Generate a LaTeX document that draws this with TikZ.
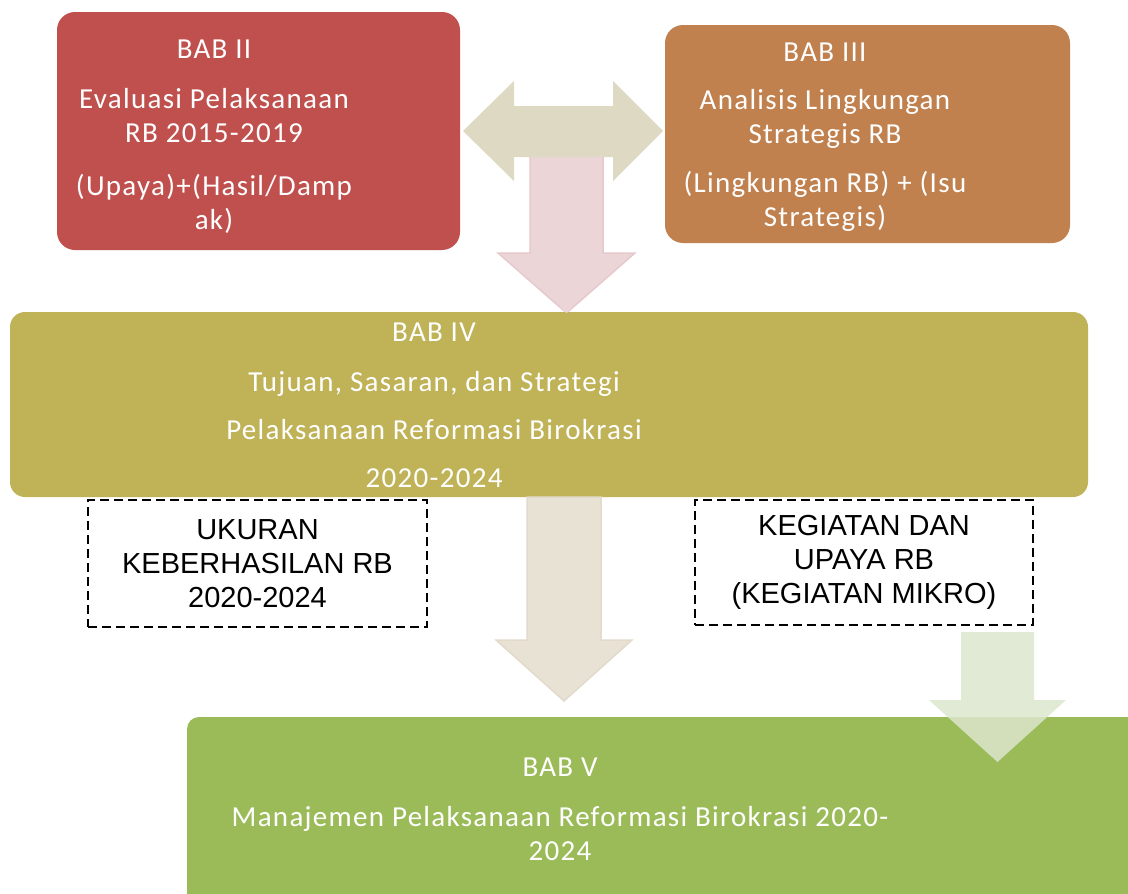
\documentclass[tikz,border=0pt]{standalone}
\usepackage{fontspec}
\usepackage{xcolor}
\setmainfont{Carlito}
\newfontfamily\babfont[LetterSpace=4.5]{Carlito}
\newfontfamily\arialfont{Liberation Sans}

\definecolor{babred}{HTML}{C0504D}
\definecolor{baborange}{HTML}{C0814F}
\definecolor{babolive}{HTML}{BFB257}
\definecolor{babgreen}{HTML}{9BBB59}
\definecolor{arrgrey}{HTML}{DDD9C3}
\definecolor{arrpink}{HTML}{EBD5D7}
\definecolor{arrpinkline}{HTML}{E6C9CC}
\definecolor{arrbeige}{HTML}{E8E2D4}
\definecolor{arrbeigeline}{HTML}{E2DACA}
\definecolor{arrgreen}{HTML}{DCE6CC}

\begin{document}
\begin{tikzpicture}[x=1pt, y=-1pt,
            babbox/.style={rectangle, rounded corners=18pt, inner sep=0pt},
            babtext/.style={anchor=north, inner sep=0pt, align=center, text=white, font=\babfont\fontsize{29}{34}\selectfont},
            dashbox/.style={rectangle, draw=black, line width=1.7pt, dash pattern=on 9pt off 5pt, align=center, inner sep=0pt, font=\arialfont\fontsize{29}{34}\selectfont},
            blockarrow/.style={line width=1.5pt, line join=miter}
        ]
\useasboundingbox (0,0) rectangle (1128,894);
\clip (0,0) rectangle (1128,894);

% Bab II and Bab III
            \node[babbox, fill=babred, minimum width=403pt, minimum height=238pt] (bab2) at (258.5,131) {};
            \node[babbox, fill=baborange, minimum width=405pt, minimum height=218pt] (bab3) at (867.5,134) {};
            \node[babtext] (bab2text) at (214,40) {BAB II\\[16pt]Evaluasi Pelaksanaan\\RB 2015-2019\\[19pt](Upaya)+(Hasil/Damp\\ak)};
            \node[babtext] (bab3text) at (825,43) {BAB III\\[14pt]Analisis Lingkungan\\Strategis RB\\[15pt](Lingkungan RB) + (Isu\\Strategis)};

% Arrows between the top boxes
            \filldraw[blockarrow, fill=arrpink, draw=arrpinkline] (530,150) -- (603,150) -- (603,253) -- (635,253) -- (566.5,313) -- (498,253) -- (530,253) -- cycle;
            \fill[arrgrey] (463,131) -- (514,81) -- (514,106) -- (613,106) -- (613,81) -- (663,131) -- (613,181) -- (613,157) -- (514,157) -- (514,181) -- cycle;

% Bab IV
            \node[babbox, fill=babolive, rounded corners=15pt, minimum width=1078pt, minimum height=185pt] (bab4) at (549,404.5) {};
            \node[babtext] (bab4text) at (434,323) {BAB IV\\[16pt]Tujuan, Sasaran, dan Strategi\\[14pt]Pelaksanaan Reformasi Birokrasi\\[14pt]2020-2024};
            \fill[arrpink] (566.5,313) -- (560,307) -- (573,307) -- cycle;

% Dashed boxes
            \node[dashbox, minimum width=339pt, minimum height=127pt] (ukuran) at (257.5,563.5) {UKURAN\\KEBERHASILAN RB\\2020-2024};
            \node[dashbox, minimum width=338pt, minimum height=125pt] (kegiatan) at (864,562.5) {KEGIATAN DAN\\UPAYA RB\\(KEGIATAN MIKRO)};

% Arrow to Bab V
            \filldraw[blockarrow, fill=arrbeige, draw=arrbeigeline] (527,497) -- (601,497) -- (601,640) -- (632,640) -- (564,701) -- (496,640) -- (527,640) -- cycle;

% Bab V
            \node[babbox, fill=babgreen, rounded corners=12pt, minimum width=955pt, minimum height=200pt] (bab5) at (664.5,817) {};
            \node[babtext] (bab5text) at (560,758) {BAB V\\[16pt]Manajemen Pelaksanaan Reformasi Birokrasi 2020-\\2024};
            \fill[arrgreen, fill opacity=0.85] (961,632) -- (1034,632) -- (1034,700) -- (1066,700) -- (997.5,762) -- (929,700) -- (961,700) -- cycle;

        \end{tikzpicture}
\end{document}
